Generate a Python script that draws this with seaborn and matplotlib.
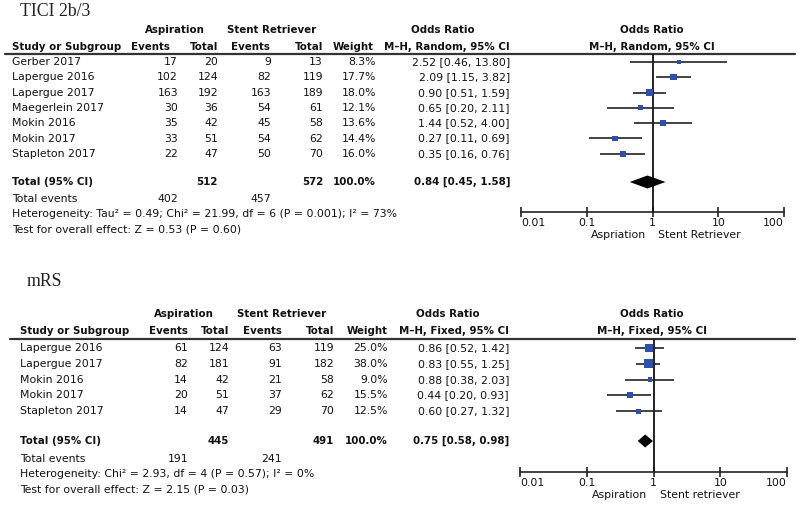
import matplotlib
matplotlib.use("Agg")
import matplotlib.pyplot as plt
import seaborn as sns
import numpy as np
import pandas as pd

# ---------------- data ----------------
tici_studies = ["Gerber 2017", "Lapergue 2016", "Lapergue 2017", "Maegerlein 2017",
                "Mokin 2016", "Mokin 2017", "Stapleton 2017"]
tici_asp_events = [17, 102, 163, 30, 35, 33, 22]
tici_asp_total = [20, 124, 192, 36, 42, 51, 47]
tici_sr_events = [9, 82, 163, 54, 45, 54, 50]
tici_sr_total = [13, 119, 189, 61, 58, 62, 70]
tici_weight = [8.3, 17.7, 18.0, 12.1, 13.6, 14.4, 16.0]
tici_or = [2.52, 2.09, 0.90, 0.65, 1.44, 0.27, 0.35]
tici_lo = [0.46, 1.15, 0.51, 0.20, 0.52, 0.11, 0.16]
tici_hi = [13.80, 3.82, 1.59, 2.11, 4.00, 0.69, 0.76]
tici_pooled = [0.84, 0.45, 1.58]
tici_sum_total = [512, 572]
tici_sum_events = [402, 457]
tici_het = "Heterogeneity: Tau\u00b2 = 0.49; Chi\u00b2 = 21.99, df = 6 (P = 0.001); I\u00b2 = 73%"
tici_test = "Test for overall effect: Z = 0.53 (P = 0.60)"

mrs_studies = ["Lapergue 2016", "Lapergue 2017", "Mokin 2016", "Mokin 2017", "Stapleton 2017"]
mrs_asp_events = [61, 82, 14, 20, 14]
mrs_asp_total = [124, 181, 42, 51, 47]
mrs_sr_events = [63, 91, 21, 37, 29]
mrs_sr_total = [119, 182, 58, 62, 70]
mrs_weight = [25.0, 38.0, 9.0, 15.5, 12.5]
mrs_or = [0.86, 0.83, 0.88, 0.44, 0.60]
mrs_lo = [0.52, 0.55, 0.38, 0.20, 0.27]
mrs_hi = [1.42, 1.25, 2.03, 0.93, 1.32]
mrs_pooled = [0.75, 0.58, 0.98]
mrs_sum_total = [445, 491]
mrs_sum_events = [191, 241]
mrs_het = "Heterogeneity: Chi\u00b2 = 2.93, df = 4 (P = 0.57); I\u00b2 = 0%"
mrs_test = "Test for overall effect: Z = 2.15 (P = 0.03)"

tick_values = [0.01, 0.1, 1, 10, 100]
tick_labels = ["0.01", "0.1", "1", "10", "100"]

# ---------------- style ----------------
sns.set_theme(style="white")
plt.rcParams["font.family"] = ["DejaVu Sans"]
FS = 7.8
FSB = 7.35
SQ_COLOR = "#2c4fb4"

fig = plt.figure(figsize=(8.0, 5.05), dpi=100)
bg = fig.add_axes([0, 0, 1, 1])
bg.set_xlim(0, 800)
bg.set_ylim(505, 0)
bg.axis("off")


def txt(x, y, s, ha="left", bold=False, **kw):
    bg.text(x, y, s, ha=ha, va="center", fontsize=FSB if bold else FS,
            fontweight="bold" if bold else "normal", color="#111111", **kw)


def panel(L, title, studies, ae, at, se, st, w, orv, lo, hi, pooled, sums, evs,
          het, test, method, lab_left, lab_right):
    # title
    bg.text(L["title"][0], L["title"][1], title, ha="left", va="center",
            fontsize=12.8, family="Liberation Serif", color="#222222")
    c = L["cols"]
    h = L["hcols"]
    # headers
    txt(L["asp_c"], L["h1"], "Aspiration", ha="center", bold=True)
    txt(L["sr_c"], L["h1"], "Stent Retriever", ha="center", bold=True)
    txt(L["or_c"], L["h1"], "Odds Ratio", ha="center", bold=True)
    txt(L["fx_c"], L["h1"], "Odds Ratio", ha="center", bold=True)
    txt(L["study_x"], L["h2"], "Study or Subgroup", bold=True)
    for xr, s in zip(h, ["Events", "Total", "Events", "Total", "Weight",
                          f"M\u2013H, {method}, 95% CI"]):
        txt(xr, L["h2"], s, ha="right", bold=True)
    txt(L["fx_c"], L["h2"], f"M\u2013H, {method}, 95% CI", ha="center", bold=True)
    bg.plot([L["line_x0"], 795], [L["line_y"], L["line_y"]], color="#333333", lw=1.6)

    ys = [L["row0"] + i * L["dy"] for i in range(len(studies))]
    for i, y in enumerate(ys):
        txt(L["study_x"], y, studies[i])
        vals = [str(ae[i]), str(at[i]), str(se[i]), str(st[i]), f"{w[i]:.1f}%",
                f"{orv[i]:.2f} [{lo[i]:.2f}, {hi[i]:.2f}]"]
        for xr, s in zip(c, vals):
            txt(xr, y, s, ha="right")
    yt = L["total_y"]
    txt(L["study_x"], yt, "Total (95% CI)", bold=True)
    txt(c[1], yt, str(sums[0]), ha="right", bold=True)
    txt(c[3], yt, str(sums[1]), ha="right", bold=True)
    txt(c[4], yt, "100.0%", ha="right", bold=True)
    txt(c[5], yt, f"{pooled[0]:.2f} [{pooled[1]:.2f}, {pooled[2]:.2f}]", ha="right", bold=True)
    txt(L["study_x"], L["ev_y"], "Total events")
    txt(c[0], L["ev_y"], str(evs[0]), ha="right")
    txt(c[2], L["ev_y"], str(evs[1]), ha="right")
    txt(L["study_x"], L["het_y"], het)
    txt(L["study_x"], L["test_y"], test)

    # forest axes (y in pixel units of the figure)
    x0, x1 = L["fx0"], L["fx1"]
    top, bot = L["line_y"], L["axis_y"]
    ax = fig.add_axes([x0 / 800, 1 - bot / 505, (x1 - x0) / 800, (bot - top) / 505])
    ax.set_xscale("log")
    ax.set_xlim(0.01, 100)
    ax.set_ylim(bot, top)
    ax.patch.set_alpha(0)
    for s in ["top", "left", "right"]:
        ax.spines[s].set_visible(False)
    ax.spines["bottom"].set_linewidth(1.2)
    ax.spines["bottom"].set_color("#222222")
    ax.set_xticks(tick_values)
    ax.set_xticklabels(tick_labels)
    ax.xaxis.set_minor_locator(matplotlib.ticker.NullLocator())
    ax.tick_params(axis="x", direction="inout", length=7, width=1.2, color="#222222",
                   labelsize=FS, pad=1, bottom=True, labelcolor="#111111")
    labs = ax.get_xticklabels()
    labs[0].set_horizontalalignment("left")
    labs[-1].set_horizontalalignment("right")
    ax.set_yticks([])
    ax.axvline(1, color="#111111", lw=1.3, zorder=1)
    ax.hlines(ys, lo, hi, color="#222222", lw=1.2, zorder=2)
    df = pd.DataFrame({"or": orv, "y": ys, "w": w})
    sns.scatterplot(data=df, x="or", y="y", marker="s", s=np.array(w) * 1.15,
                    color=SQ_COLOR, linewidth=0, ax=ax, zorder=3, legend=False)
    hh = L["dh"]
    ax.fill([pooled[1], pooled[0], pooled[2], pooled[0]],
            [yt, yt - hh, yt, yt + hh], color="black", lw=0, zorder=3)
    ax.set_xlabel("")
    ax.set_ylabel("")
    ax.grid(False)
    # direction labels
    xc = x0 + (x1 - x0) / 2
    txt(xc - 6, L["lab_y"], lab_left, ha="right")
    txt(xc + 6, L["lab_y"], lab_right, ha="left")


top_layout = dict(title=(20, 12), study_x=12, asp_c=175, sr_c=272, or_c=443, fx_c=652,
                  h1=30, h2=46.5, line_y=54, line_x0=5, row0=62, dy=15.3, total_y=182,
                  ev_y=199, het_y=214, test_y=229,
                  cols=[178, 218, 271, 323, 376, 510],
                  hcols=[170, 218, 270, 323, 374, 510],
                  fx0=521, fx1=784, axis_y=212, lab_y=235, dh=6.5)
bot_layout = dict(title=(27, 282), study_x=20, asp_c=184, sr_c=282, or_c=448, fx_c=652,
                  h1=314, h2=331, line_y=339, line_x0=10, row0=348, dy=15.8, total_y=441,
                  ev_y=459, het_y=474, test_y=490,
                  cols=[188, 229, 282, 334, 388, 509],
                  hcols=[188, 229, 282, 334, 388, 509],
                  fx0=520, fx1=787, axis_y=472, lab_y=495, dh=6.5)

panel(top_layout, "TICI 2b/3", tici_studies, tici_asp_events, tici_asp_total,
      tici_sr_events, tici_sr_total, tici_weight, tici_or, tici_lo, tici_hi,
      tici_pooled, tici_sum_total, tici_sum_events, tici_het, tici_test,
      "Random", "Aspriation", "Stent Retriever")
panel(bot_layout, "mRS", mrs_studies, mrs_asp_events, mrs_asp_total,
      mrs_sr_events, mrs_sr_total, mrs_weight, mrs_or, mrs_lo, mrs_hi,
      mrs_pooled, mrs_sum_total, mrs_sum_events, mrs_het, mrs_test,
      "Fixed", "Aspiration", "Stent retriever")

fig.savefig("out.png", dpi=100)
